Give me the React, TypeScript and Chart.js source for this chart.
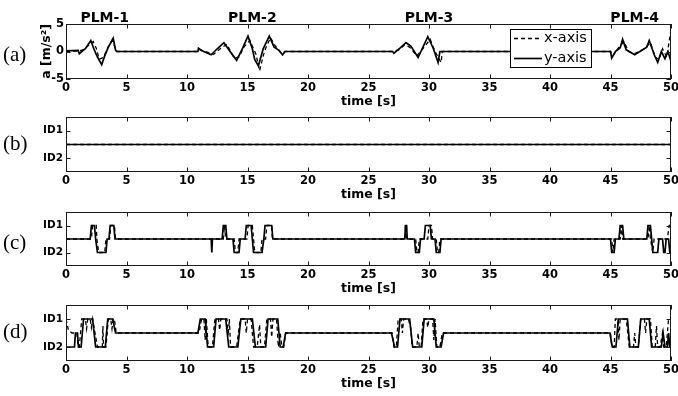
import React, { useEffect, useRef } from "react";
import { Chart, registerables } from "chart.js";

Chart.register(...registerables);

// ---------------- data ----------------
type Pt = [number, number];

const X_MIN = 0;
const X_MAX = 50;
const X_STEP = 5;
const X_TITLE = "time [s]";
const A_Y_TITLE = "a [m/s²]";
const A_Y_MIN = -5;
const A_Y_MAX = 5;
const A_Y_STEP = 5;
const ID_Y_MIN = -2;
const ID_Y_MAX = 2;
const ID_TICK_VALUES = [1, -1];
const ID_TICK_LABELS = ["ID1", "ID2"];
const SERIES_LABELS = ["x-axis", "y-axis"];
const PANEL_LABELS = ["(a)", "(b)", "(c)", "(d)"];
const PLM_LABELS = ["PLM-1", "PLM-2", "PLM-3", "PLM-4"];
const PLM_CENTERS = [3.2, 15.4, 30, 47];

// (a) acceleration, x-axis (dashed)
const A_X: Pt[] = [
  [0, 0], [1.0, 0.1], [1.4, 0.3], [1.8, 1.0], [2.25, 1.8], [2.5, 0.6], [2.75, -1.4], [3.1, -1.1], [3.4, 0.5], [3.8, 2.0], [4.0, 1.0], [4.2, 0],
  [10.9, 0], [11.0, 0.4], [11.4, 0.1], [12.2, -0.5], [12.8, 0.6], [13.3, 1.3], [13.9, -1.2], [14.3, -1.0], [14.7, 0.8], [15.2, 2.0], [15.7, -0.5], [16.0, -3.5], [16.3, -0.8], [16.5, 0.6], [16.9, 2.5], [17.3, 1.0], [17.8, -0.3], [18.1, 0],
  [27.0, 0], [27.5, 0.3], [28.0, 1.2], [28.4, 0.8], [29.0, -0.8], [29.6, 0.8], [30.1, 2.2], [30.5, 0], [30.8, -1.2], [31.0, -2.0], [31.1, 0],
  [45.0, 0], [45.2, -0.8], [45.6, 0.5], [46.1, 1.8], [46.5, 0], [47.0, -0.4], [47.8, 0.5], [48.3, 1.6], [48.7, -1.0], [49.0, -1.5], [49.3, 0.5], [49.65, -1.0], [50, 4.0],
];
// (a) acceleration, y-axis (solid)
const A_Y: Pt[] = [
  [0, 0.1], [1.0, 0.2], [1.1, -0.4], [1.3, 0], [1.6, 0.5], [2.05, 2.0], [2.3, 0.5], [2.6, -1.0], [2.95, -2.4], [3.2, -0.8], [3.5, 0.8], [3.9, 2.4], [4.1, 0.2], [4.2, 0],
  [10.9, 0], [10.95, 0.6], [11.2, 0.2], [12.0, -0.6], [12.5, 0.5], [13.05, 1.6], [13.5, 0.2], [14.1, -1.6], [14.6, 0.6], [15.04, 2.8], [15.4, 0.5], [15.6, -1.5], [15.9, -2.6], [16.3, 0.5], [16.8, 2.8], [17.2, 0.8], [17.6, 0.2], [17.9, -0.6], [18.1, 0],
  [27.0, 0], [27.1, -0.3], [27.6, 0.6], [28.1, 1.6], [28.5, 1.0], [29.1, -1.1], [29.9, 2.7], [30.35, 0.6], [30.75, -2.0], [30.9, 0], [31.0, 0],
  [45.0, 0], [45.1, -1.2], [45.4, 0], [45.8, 0.7], [46.0, 2.2], [46.3, 0.3], [47.0, -0.6], [48.0, 0.8], [48.2, 2.0], [48.6, -0.5], [48.9, -2.0], [49.2, 0], [49.5, -1.3], [49.75, 0], [50, -1.8],
];

// (b) identification, flat
const B_X: Pt[] = [[0, 0], [50, 0]];
const B_Y: Pt[] = [[0, 0], [50, 0]];

// (c) identification
const C_X: Pt[] = [
  [0, 0], [2.1, 0], [2.2, 1], [2.5, 1], [2.55, 0], [2.7, -1], [3.2, -1], [3.3, 0], [3.6, 0], [3.7, 1], [4.0, 1], [4.1, 0],
  [13.0, 0], [13.1, 1], [13.2, 0], [13.9, 0], [14.0, -1], [14.2, -1], [14.3, 0], [14.95, 0], [15.05, 1], [15.4, 1], [15.5, 0], [15.6, -1], [16.1, -1], [16.2, 0], [16.5, 0], [16.6, 1], [17.0, 1], [17.05, 0],
  [28.05, 0], [28.1, 1], [28.15, 0], [28.9, 0], [29.0, -1], [29.1, -1], [29.2, 0], [29.9, 0], [30.0, 1], [30.2, 1], [30.3, 0], [30.6, 0], [30.7, -1], [30.8, -1], [30.9, 0],
  [45.1, 0], [45.2, -1], [45.3, 0], [45.8, 0], [45.9, 1], [46.0, 0], [48.1, 0], [48.2, 1], [48.3, 0], [48.5, -1], [48.6, 0], [49.7, 0], [49.85, 1], [50, 1],
];
const C_Y: Pt[] = [
  [0, 0], [2.0, 0], [2.1, 1], [2.35, 1], [2.45, 0], [2.6, -1], [3.3, -1], [3.4, 0], [3.55, 0], [3.65, 1], [3.95, 1], [4.05, 0],
  [12.0, 0], [12.05, -1], [12.1, 0],
  [12.9, 0], [13.0, 1], [13.2, 1], [13.3, 0], [13.8, 0], [13.9, -1], [14.3, -1], [14.4, 0], [14.8, 0], [14.9, 1], [15.3, 1], [15.4, 0], [15.5, -1], [16.2, -1], [16.35, 0], [16.45, 1], [17.0, 1], [17.1, 0],
  [28.0, 0], [28.05, 1], [28.15, 1], [28.2, 0], [28.8, 0], [28.9, -1], [29.2, -1], [29.3, 0], [29.6, 0], [29.7, 1], [30.1, 1], [30.2, 0], [30.5, 0], [30.6, -1], [30.9, -1], [31.0, 0],
  [45.0, 0], [45.1, -1], [45.3, -1], [45.4, 0], [45.7, 0], [45.8, 1], [46.0, 1], [46.1, 0], [48.0, 0], [48.1, 1], [48.3, 1], [48.4, 0], [48.5, -1], [48.9, -1], [49.0, 0], [49.3, 0], [49.4, -1], [49.5, -1], [49.6, 0], [49.8, 0], [49.9, -1], [50, -1],
];

// (d) identification
const D_X: Pt[] = [
  [0, 1], [0.2, 0.2], [0.5, 0], [0.9, 0], [1.0, -1], [1.1, -1], [1.3, 1], [1.6, 1], [1.7, 0.3], [1.8, 1], [2.0, 1], [2.1, 0.4], [2.2, 1], [2.6, -1], [3.0, -1], [3.05, 0.5], [3.1, -1], [3.3, -1], [3.5, 1], [3.7, 1], [3.8, 0.3], [3.9, 1], [4.0, 1], [4.15, 0],
  [11.0, 0], [11.2, 1], [11.4, 1], [11.5, -0.5], [11.6, 1], [11.75, -1], [12.1, -1], [12.3, 1], [12.6, 1], [12.7, 0.2], [12.8, 1], [13.3, 1], [13.4, -0.2], [13.5, 1], [13.6, -1], [14.1, -1], [14.4, 1], [14.8, 1], [14.9, 0], [15.0, 1], [15.3, 1], [15.5, -1], [15.8, -1], [16.0, 0.6], [16.1, -1], [16.4, -1], [16.6, 1], [16.9, 1], [17.0, -0.3], [17.1, 1], [17.4, 1], [17.55, -1], [17.7, 0], [17.85, -1], [18.0, -1], [18.15, 0],
  [26.95, 0], [27.1, -1], [27.3, -1], [27.45, 1], [27.7, 1], [27.8, 0], [27.9, 1], [28.3, 1], [28.5, 0.3], [28.6, -1], [29.0, -1], [29.1, 0], [29.2, -1], [29.35, -1], [29.5, 1], [29.8, 1], [29.9, 0.4], [30.0, 1], [30.3, 1], [30.4, -0.5], [30.5, 1], [30.65, -1], [30.9, -1], [31.1, 0],
  [45.0, 0], [45.1, -1], [45.3, -1], [45.4, 1], [45.6, 1], [45.7, -0.5], [45.8, 1], [46.3, 1], [46.55, -1], [46.9, -1], [47.0, 0], [47.1, -1], [47.3, -1], [47.5, 1], [47.8, 1], [47.9, 0], [48.0, 1], [48.3, 1], [48.45, -1], [48.7, -1], [48.8, 0.5], [48.9, -1], [49.1, -1], [49.3, 0], [49.4, -1], [49.6, -1], [49.8, 1], [50, 1],
];
const D_Y: Pt[] = [
  [0, -1], [0.7, -1], [0.78, 0], [0.95, 0], [1.03, -1], [1.25, -1], [1.45, 1], [2.2, 1], [2.45, -1], [3.25, -1], [3.45, 1], [3.85, 1], [4.1, 0],
  [10.9, 0], [11.1, 1], [11.5, 1], [11.7, -1], [12.2, -1], [12.4, 1], [13.2, 1], [13.45, -1], [14.2, -1], [14.45, 1], [15.4, 1], [15.65, -1], [16.5, -1], [16.7, 1], [17.5, 1], [17.7, -1], [17.95, -1], [18.15, 0],
  [26.9, 0], [27.15, -1], [27.4, -1], [27.6, 1], [28.4, 1], [28.65, -1], [29.4, -1], [29.6, 1], [30.4, 1], [30.6, -1], [31.0, -1], [31.2, 0],
  [44.95, 0], [45.15, -1], [45.45, -1], [45.65, 1], [46.4, 1], [46.6, -1], [47.3, -1], [47.5, 1], [48.2, 1], [48.4, -1], [49.2, -1], [49.35, 0], [49.5, -1], [49.7, -1], [49.8, 0], [49.9, -1], [50, -1],
];

// ---------------- layout / style ----------------
const W = 678;
const H = 396;
const PLOT_LEFT = 66;
const PLOT_RIGHT = 671;
const X_AXIS_H = 30;
const SANS = "'DejaVu Sans', sans-serif";
const SERIF = "'Liberation Serif', 'Times New Roman', serif";

type Panel = { kind: "acc" | "id"; top: number; bottom: number; labelY: number; xs: Pt[]; ys: Pt[] };
const PANELS: Panel[] = [
  { kind: "acc", top: 24, bottom: 79, labelY: 54, xs: A_X, ys: A_Y },
  { kind: "id", top: 117, bottom: 172, labelY: 143, xs: B_X, ys: B_Y },
  { kind: "id", top: 212, bottom: 266, labelY: 242, xs: C_X, ys: C_Y },
  { kind: "id", top: 305, bottom: 361, labelY: 331, xs: D_X, ys: D_Y },
];

const toPts = (arr: Pt[]) => arr.map(([x, y]) => ({ x, y }));

const framePlugin = {
  id: "matFrame",
  afterDatasetsDraw(chart: any, _args: any, opts: any) {
    const { ctx, chartArea: a, scales } = chart;
    const xs = scales.x;
    const ys = scales.y;
    const TL = 4.5;
    ctx.save();
    ctx.strokeStyle = "#1a1a1a";
    ctx.lineWidth = 1;
    ctx.setLineDash([]);
    ctx.strokeRect(a.left + 0.5, a.top + 0.5, a.right - a.left - 1, a.bottom - a.top - 1);
    ctx.beginPath();
    xs.ticks.forEach((t: any) => {
      const px = Math.round(xs.getPixelForValue(t.value)) + 0.5;
      ctx.moveTo(px, a.bottom);
      ctx.lineTo(px, a.bottom - TL);
      ctx.moveTo(px, a.top);
      ctx.lineTo(px, a.top + TL);
    });
    ys.ticks.forEach((t: any) => {
      const py = Math.round(ys.getPixelForValue(t.value)) + 0.5;
      ctx.moveTo(a.left, py);
      ctx.lineTo(a.left + TL, py);
      ctx.moveTo(a.right, py);
      ctx.lineTo(a.right - TL, py);
    });
    ctx.stroke();

    if (opts && opts.titles) {
      ctx.fillStyle = "#000";
      ctx.font = `bold 14px ${SANS}`;
      ctx.textAlign = "center";
      ctx.textBaseline = "alphabetic";
      PLM_LABELS.forEach((lab, i) => {
        ctx.fillText(lab, xs.getPixelForValue(PLM_CENTERS[i]), 22);
      });
    }

    if (opts && opts.legend) {
      const bx = 510, by = 29, bw = 82, bh = 39;
      ctx.fillStyle = "#fff";
      ctx.fillRect(bx, by, bw, bh);
      ctx.strokeStyle = "#000";
      ctx.lineWidth = 1;
      ctx.strokeRect(bx + 0.5, by + 0.5, bw - 1, bh - 1);
      const rows = [38, 58];
      const ds = chart.data.datasets;
      ctx.font = `14.5px ${SANS}`;
      ctx.textAlign = "left";
      ctx.textBaseline = "middle";
      ds.forEach((d: any, i: number) => {
        ctx.beginPath();
        ctx.setLineDash(d.borderDash || []);
        ctx.lineWidth = d.borderWidth;
        ctx.strokeStyle = d.borderColor;
        ctx.moveTo(514, rows[i] + 0.5);
        ctx.lineTo(542, rows[i] + 0.5);
        ctx.stroke();
        ctx.setLineDash([]);
        ctx.fillStyle = "#000";
        ctx.fillText(d.label, 544, rows[i]);
      });
    }
    ctx.restore();
  },
};

function makeConfig(p: Panel): any {
  const isAcc = p.kind === "acc";
  const tickFont = { family: SANS, weight: "bold", size: 11.5 };
  const yScale: any = isAcc
    ? {
        type: "linear",
        min: A_Y_MIN,
        max: A_Y_MAX,
        grid: { display: false, drawTicks: false },
        border: { display: false },
        ticks: { stepSize: A_Y_STEP, color: "#000", padding: 2, font: tickFont },
        title: {
          display: true,
          text: A_Y_TITLE,
          color: "#000",
          font: { family: SANS, weight: "bold", size: 12.5 },
          padding: { top: 39.5, bottom: 0 },
        },
        afterFit: (s: any) => {
          s.width = PLOT_LEFT;
          s.paddingTop = 0;
          s.paddingBottom = 0;
        },
      }
    : {
        type: "linear",
        min: ID_Y_MIN,
        max: ID_Y_MAX,
        grid: { display: false, drawTicks: false },
        border: { display: false },
        afterBuildTicks: (s: any) => {
          s.ticks = ID_TICK_VALUES.map((v) => ({ value: v }));
        },
        ticks: {
          color: "#000",
          padding: 3,
          font: { family: SANS, weight: "bold", size: 10.5 },
          callback: (v: any) => {
            const i = ID_TICK_VALUES.indexOf(Number(v));
            return i >= 0 ? ID_TICK_LABELS[i] : "";
          },
        },
        afterFit: (s: any) => {
          s.width = PLOT_LEFT;
          s.paddingTop = 0;
          s.paddingBottom = 0;
        },
      };

  return {
    type: "line",
    data: {
      datasets: [
        {
          label: SERIES_LABELS[0],
          data: toPts(p.xs),
          borderColor: "#000",
          borderWidth: 1.3,
          borderDash: [4, 3],
          pointRadius: 0,
          fill: false,
          tension: 0,
        },
        {
          label: SERIES_LABELS[1],
          data: toPts(p.ys),
          borderColor: "#000",
          borderWidth: 1.7,
          pointRadius: 0,
          fill: false,
          tension: 0,
        },
      ],
    },
    options: {
      responsive: false,
      animation: false,
      events: [],
      parsing: false,
      layout: {
        padding: { left: 0, right: W - PLOT_RIGHT, top: p.top, bottom: H - p.bottom - X_AXIS_H },
      },
      plugins: {
        legend: { display: false },
        tooltip: { enabled: false },
        title: { display: false },
        matFrame: { titles: isAcc, legend: isAcc },
      },
      scales: {
        x: {
          type: "linear",
          min: X_MIN,
          max: X_MAX,
          grid: { display: false, drawTicks: false },
          border: { display: false },
          ticks: { stepSize: X_STEP, color: "#000", padding: 2, maxRotation: 0, autoSkip: false, font: tickFont },
          title: {
            display: true,
            text: X_TITLE,
            color: "#000",
            font: { family: SANS, weight: "bold", size: 12.5 },
            padding: 0,
          },
          afterFit: (s: any) => {
            s.height = X_AXIS_H;
            s.paddingLeft = 0;
            s.paddingRight = 0;
          },
        },
        y: yScale,
      },
    },
    plugins: [framePlugin],
  };
}

export default function App() {
  const refs = [useRef<HTMLCanvasElement>(null), useRef<HTMLCanvasElement>(null), useRef<HTMLCanvasElement>(null), useRef<HTMLCanvasElement>(null)];

  useEffect(() => {
    const charts = PANELS.map((p, i) => new Chart(refs[i].current as HTMLCanvasElement, makeConfig(p)));
    return () => charts.forEach((c) => c.destroy());
  }, []);

  return (
    <div style={{ position: "absolute", left: 0, top: 0, width: W, height: H, background: "#fff", overflow: "hidden" }}>
      {PANELS.map((p, i) => (
        <canvas
          key={i}
          ref={refs[i]}
          width={W}
          height={H}
          style={{ position: "absolute", left: 0, top: 0, width: W, height: H }}
        />
      ))}
      {PANELS.map((p, i) => (
        <div
          key={"l" + i}
          style={{
            position: "absolute",
            left: 3,
            top: p.labelY - 12,
            height: 24,
            lineHeight: "24px",
            fontFamily: SERIF,
            fontSize: 21,
            color: "#000",
          }}
        >
          {PANEL_LABELS[i]}
        </div>
      ))}
    </div>
  );
}
